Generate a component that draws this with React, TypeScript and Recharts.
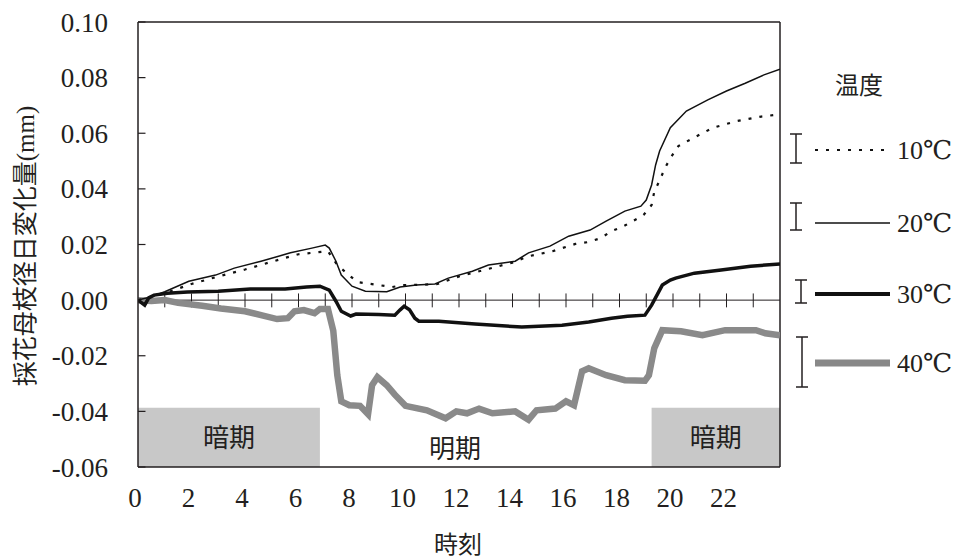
import React from "react";
import {
  ComposedChart, Line, XAxis, YAxis, ReferenceArea, ReferenceLine, ReferenceDot,
} from "recharts";

// [hour, mm]
const s10: [number, number][] = [
  [0, 0], [1, 0.0025], [2, 0.0058], [3, 0.0085], [4, 0.011], [5, 0.0138], [5.5, 0.0152],
  [6, 0.0165], [6.5, 0.017], [7.1, 0.0176], [7.45, 0.0126], [7.8, 0.0097], [8.2, 0.0065],
  [9.0, 0.0054], [9.5, 0.0047], [9.9, 0.0054], [10.5, 0.0055], [11.2, 0.0058], [12, 0.0085],
  [13, 0.011], [14, 0.0135], [14.6, 0.0158], [15.5, 0.0176], [16.35, 0.0202], [16.85, 0.0209],
  [17.3, 0.0223], [17.7, 0.0248], [18.1, 0.0263], [18.5, 0.0284], [18.9, 0.0306], [19.2, 0.0342],
  [19.3, 0.039], [19.5, 0.043], [19.7, 0.0475], [19.9, 0.051], [20.2, 0.0554], [20.7, 0.058],
  [21.5, 0.062], [22.4, 0.0644], [23.3, 0.066], [24, 0.0668],
];

const s20: [number, number][] = [
  [0, 0], [0.5, 0.0012], [1, 0.003], [1.9, 0.0068], [2.9, 0.009], [3.6, 0.0115], [4.6, 0.014],
  [5.7, 0.017], [6.5, 0.0187], [7.0, 0.0198], [7.15, 0.0187], [7.4, 0.014], [7.6, 0.009],
  [8.0, 0.005], [8.5, 0.0032], [9.3, 0.003], [9.8, 0.0047], [10.4, 0.0054], [11.1, 0.0058],
  [11.6, 0.0079], [12.5, 0.0104], [13.1, 0.0126], [14.1, 0.014], [14.6, 0.017], [15.4, 0.0194],
  [16.1, 0.023], [16.9, 0.0252], [17.5, 0.0284], [18.2, 0.032], [18.8, 0.0338], [19.0, 0.036],
  [19.2, 0.0414], [19.35, 0.0486], [19.5, 0.0536], [19.9, 0.062], [20.5, 0.068], [21.3, 0.072],
  [22.0, 0.0752], [22.7, 0.078], [23.4, 0.081], [24, 0.083],
];

const s30: [number, number][] = [
  [0, 0], [0.25, -0.0018], [0.4, 0.0008], [0.6, 0.0018], [1.1, 0.0025], [1.85, 0.0029],
  [3.0, 0.0032], [4.2, 0.004], [5.5, 0.004], [6.3, 0.0047], [6.8, 0.005], [7.15, 0.0036],
  [7.4, -0.0004], [7.6, -0.004], [7.95, -0.0057], [8.15, -0.005], [9.0, -0.0052], [9.6, -0.0054],
  [9.8, -0.0035], [9.95, -0.0022], [10.15, -0.0035], [10.35, -0.0065], [10.5, -0.0076],
  [11.25, -0.0076], [12.6, -0.0086], [14.35, -0.0097], [15.85, -0.009], [16.85, -0.0079],
  [17.7, -0.0065], [18.3, -0.0058], [18.95, -0.0054], [19.2, -0.0018], [19.4, 0.0018],
  [19.6, 0.0054], [19.9, 0.0072], [20.1, 0.0079], [20.8, 0.0097], [21.8, 0.0108],
  [22.9, 0.0122], [24, 0.013],
];

const s40: [number, number][] = [
  [0, 0], [0.5, -0.0003], [1.0, 0], [1.5, -0.001], [2.4, -0.002], [3.1, -0.003], [4.0, -0.004],
  [4.6, -0.0054], [5.2, -0.0068], [5.6, -0.0065], [5.85, -0.004], [6.2, -0.0036], [6.6, -0.0047],
  [6.8, -0.0032], [7.1, -0.0032], [7.3, -0.011], [7.45, -0.027], [7.6, -0.0364], [7.9, -0.0378],
  [8.3, -0.038], [8.6, -0.041], [8.75, -0.0306], [8.95, -0.0277], [9.3, -0.0306], [9.6, -0.034],
  [10.0, -0.038], [10.8, -0.0396], [11.5, -0.0425], [11.9, -0.040], [12.3, -0.0407], [12.75, -0.039],
  [13.25, -0.0407], [14.1, -0.04], [14.6, -0.043], [14.9, -0.0396], [15.6, -0.039], [16.0, -0.0364],
  [16.3, -0.0378], [16.6, -0.0256], [16.85, -0.0245], [17.5, -0.027], [18.2, -0.0288],
  [18.95, -0.029], [19.1, -0.027], [19.3, -0.0173], [19.6, -0.0108], [20.3, -0.0112],
  [21.1, -0.0126], [21.95, -0.0108], [23.1, -0.0108], [23.45, -0.0119], [24, -0.0126],
];

const hourTicks = [0, 2, 4, 6, 8, 10, 12, 14, 16, 18, 20, 22];
const zeroLineTicks = [1, 2, 3, 4, 5, 6, 7, 8, 9, 10, 11, 12, 13, 14, 15, 16, 17, 18, 19, 20, 21, 22, 23];
const yTicks = [0.1, 0.08, 0.06, 0.04, 0.02, 0, -0.02, -0.04, -0.06];

// dark periods (hours)
const darkPeriods: [number, number][] = [[0, 6.8], [19.2, 24]];
const darkBoxTop = -0.0387;

const SERIF = "Liberation Serif, Times New Roman, DejaVu Serif, Noto Sans CJK JP, serif";
const CJK = "Noto Sans CJK JP, sans-serif";
const INK = "#231f20";

const toRows = (s: [number, number][]) => s.map(([x, y]) => ({ x, y }));

const legendItems = [
  { label: "10℃", lineY: 150, bar: [134, 163], barX: 796, stroke: "#111", width: 2.2, dash: "3 8" },
  { label: "20℃", lineY: 223, bar: [203, 230], barX: 796, stroke: "#111", width: 1.5, dash: undefined },
  { label: "30℃", lineY: 294, bar: [280, 303], barX: 801, stroke: "#111", width: 4, dash: undefined },
  { label: "40℃", lineY: 363, bar: [337, 387], barX: 802, stroke: "#888", width: 7, dash: undefined },
];

const tickStyle = { fontSize: 27, fontFamily: SERIF, fill: INK, style: { fontFamily: SERIF } };

export default function App() {
  return (
    <div style={{ position: "absolute", left: 0, top: 0, width: 954, height: 560, background: "#fff", fontFamily: SERIF }}>
      <ComposedChart width={954} height={560} margin={{ top: 22, right: 174, bottom: 33, left: 0 }}
        style={{ fontFamily: SERIF }}>
        <XAxis
          dataKey="x"
          type="number"
          domain={[0, 24]}
          ticks={hourTicks}
          allowDataOverflow
          tickLine={false}
          tickSize={0}
          tickMargin={21}
          height={60}
          interval={0}
          axisLine={{ stroke: INK, strokeWidth: 1.5 }}
          tick={{ ...tickStyle, dx: -3 }}
          tickFormatter={(v: number) => String(v)}
          label={{
            content: () => (
              <text x={458} y={542} textAnchor="middle" dominantBaseline="central"
                style={{ fontSize: 24, fontFamily: CJK }} fill={INK}>時刻</text>
            ),
          }}
        />
        <YAxis
          type="number"
          domain={[-0.06, 0.1]}
          ticks={yTicks}
          width={138}
          tickLine={false}
          tickSize={0}
          tickMargin={30}
          interval={0}
          axisLine={{ stroke: INK, strokeWidth: 1.5 }}
          tick={tickStyle}
          tickFormatter={(v: number) => v.toFixed(2)}
          label={{
            content: () => (
              <text
                transform="translate(25,246) rotate(-90)"
                textAnchor="middle"
                dominantBaseline="central"
                style={{ fontSize: 25, fontFamily: SERIF }}
                fill={INK}
              >
                採花母枝径日変化量(mm)
              </text>
            ),
          }}
        />

        {darkPeriods.map(([a, b], i) => (
          <ReferenceArea
            key={i}
            x1={a}
            x2={b}
            y1={-0.06}
            y2={darkBoxTop}
            fill="#c8c8c8"
            fillOpacity={1}
            stroke="none"
            label={{ value: "暗期", position: "center", fontSize: 26, fontFamily: CJK, fill: INK }}
          />
        ))}
        <ReferenceDot
          x={11.85}
          y={-0.0533}
          r={0}
          fill="none"
          stroke="none"
          label={{ value: "明期", position: "center", fontSize: 26, fontFamily: CJK, fill: INK }}
        />

        <ReferenceLine y={0.1} stroke={INK} strokeWidth={1.5} />
        <ReferenceLine x={24} stroke={INK} strokeWidth={1.5} />
        <ReferenceLine y={0} stroke={INK} strokeWidth={1} />
        {zeroLineTicks.map((h) => (
          <ReferenceLine
            key={h}
            segment={[{ x: h, y: -0.0026 }, { x: h, y: 0.0024 }]}
            stroke={INK}
            strokeWidth={1}
          />
        ))}
        {/* inward ticks on the left axis */}
        {yTicks.map((v) => (
          <ReferenceLine
            key={`yt${v}`}
            segment={[{ x: 0, y: v }, { x: 0.28, y: v }]}
            stroke={INK}
            strokeWidth={1.2}
          />
        ))}

        <Line data={toRows(s40)} dataKey="y" type="linear" stroke="#8a8a8a" strokeWidth={6.5}
          dot={false} isAnimationActive={false} />
        <Line data={toRows(s30)} dataKey="y" type="linear" stroke="#111" strokeWidth={3.5}
          dot={false} isAnimationActive={false} />
        <Line data={toRows(s10)} dataKey="y" type="linear" stroke="#111" strokeWidth={2.2}
          strokeDasharray="3 8" dot={false} isAnimationActive={false} />
        <Line data={toRows(s20)} dataKey="y" type="linear" stroke="#111" strokeWidth={1.5}
          dot={false} isAnimationActive={false} />
      </ComposedChart>

      <svg width={954} height={560} style={{ position: "absolute", left: 0, top: 0, pointerEvents: "none" }}>
        <text x={859} y={83} textAnchor="middle" dominantBaseline="central"
          style={{ fontSize: 24, fontFamily: CJK }} fill={INK}>
          温度
        </text>
        {legendItems.map((it) => (
          <g key={it.label}>
            <line x1={it.barX} x2={it.barX} y1={it.bar[0]} y2={it.bar[1]} stroke={INK} strokeWidth={1.5} />
            <line x1={it.barX - 6} x2={it.barX + 6} y1={it.bar[0]} y2={it.bar[0]} stroke={INK} strokeWidth={1.5} />
            <line x1={it.barX - 6} x2={it.barX + 6} y1={it.bar[1]} y2={it.bar[1]} stroke={INK} strokeWidth={1.5} />
            <line x1={815} x2={890} y1={it.lineY} y2={it.lineY} stroke={it.stroke} strokeWidth={it.width}
              strokeDasharray={it.dash} />
            <text x={897} y={it.lineY} dy={9} style={{ fontSize: 26, fontFamily: SERIF }} fill={INK}>{it.label}</text>
          </g>
        ))}
      </svg>
    </div>
  );
}
